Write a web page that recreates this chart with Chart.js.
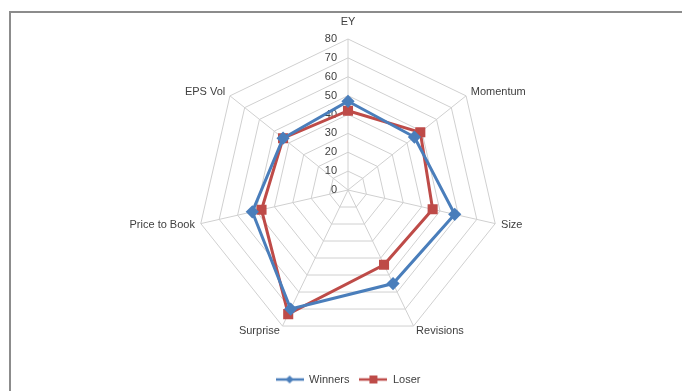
<!DOCTYPE html>
<html>
<head>
<meta charset="utf-8">
<script src="https://cdn.jsdelivr.net/npm/chart.js@4.4.1/dist/chart.umd.min.js"></script>
<style>
  html, body { margin: 0; padding: 0; background: #fff; overflow: hidden; }
  #frame { position: absolute; left: 9px; top: 11px; width: 700px; height: 400px;
           border-left: 2px solid #8c8c8c; border-top: 2px solid #8c8c8c; }
  #wrap { position: absolute; left: 0; top: 0; width: 682px; height: 391px; }
</style>
</head>
<body>
<div id="frame"></div>
<div id="wrap"><canvas id="c"></canvas></div>
<script>
const categories = ["EY", "Momentum", "Size", "Revisions", "Surprise", "Price to Book", "EPS Vol"];
const winners = [47, 45, 58, 55, 70, 52, 44];
const loser = [42, 49, 46, 44, 73, 47, 44];
const tickValues = [0, 10, 20, 30, 40, 50, 60, 70, 80];

const BLUE = "#4a7ebb";
const RED = "#be4b48";
const TEXT = "#404040";
const FONT = "11px 'Liberation Sans', Arial, sans-serif";

function legendIcon(color, shape) {
  const cv = document.createElement("canvas");
  cv.width = 28; cv.height = 12;
  const g = cv.getContext("2d");
  g.strokeStyle = color; g.lineWidth = 2.5;
  g.beginPath(); g.moveTo(0, 6); g.lineTo(28, 6); g.stroke();
  g.fillStyle = color;
  if (shape === "diamond") {
    g.beginPath(); g.moveTo(14, 2); g.lineTo(18, 6); g.lineTo(14, 10); g.lineTo(10, 6); g.closePath(); g.fill();
  } else {
    g.fillRect(10, 2, 8, 8);
  }
  return cv;
}

// Excel-style tick labels (left of the vertical axis) and point labels
const labelPlugin = {
  id: "excelLabels",
  beforeDatasetsDraw(chart) {
    const s = chart.scales.r;
    const ctx = chart.ctx;
    ctx.save();
    ctx.font = FONT;
    ctx.fillStyle = TEXT;
    ctx.textAlign = "right";
    ctx.textBaseline = "middle";
    tickValues.forEach(v => {
      const d = s.getDistanceFromCenterForValue(v);
      ctx.fillText(String(v), s.xCenter - 11, s.yCenter - d);
    });
    const maxD = s.getDistanceFromCenterForValue(s.max);
    categories.forEach((lab, i) => {
      const base = s.getPointPosition(i, maxD);
      const dx = base.x - s.xCenter;
      let p;
      if (Math.abs(dx) < 2) {
        p = s.getPointPosition(i, maxD + 17);
        ctx.textAlign = "center";
      } else {
        p = s.getPointPosition(i, maxD + 6);
        ctx.textAlign = dx > 0 ? "left" : "right";
      }
      ctx.fillText(lab, p.x, p.y);
    });
    ctx.restore();
  }
};

new Chart(document.getElementById("c"), {
  type: "radar",
  data: {
    labels: categories,
    datasets: [
      { label: "Winners", data: winners, borderColor: BLUE, backgroundColor: BLUE,
        borderWidth: 3, pointStyle: "rectRot", pointRadius: 4.5, pointHoverRadius: 4.5,
        pointBackgroundColor: BLUE, pointBorderColor: BLUE, fill: false },
      { label: "Loser", data: loser, borderColor: RED, backgroundColor: RED,
        borderWidth: 3, pointStyle: "rect", pointRadius: 5, pointHoverRadius: 5,
        pointBackgroundColor: RED, pointBorderColor: RED, fill: false }
    ]
  },
  options: {
    responsive: true,
    maintainAspectRatio: false,
    animation: false,
    layout: { padding: { top: 16, bottom: -4, left: 197, right: 183 } },
    scales: {
      r: {
        min: 0, max: 80,
        ticks: { stepSize: 10, display: false },
        grid: { color: "#d0d0d0", lineWidth: 1, circular: false },
        angleLines: { color: "#d0d0d0", lineWidth: 1 },
        pointLabels: { display: false }
      }
    },
    plugins: {
      tooltip: { enabled: false },
      legend: {
        position: "bottom",
        labels: {
          usePointStyle: true,
          pointStyleWidth: 28,
          font: { family: "'Liberation Sans', Arial, sans-serif", size: 11 },
          color: TEXT,
          padding: 10,
          generateLabels(chart) {
            return chart.data.datasets.map((ds, i) => ({
              text: ds.label,
              pointStyle: legendIcon(ds.borderColor, i === 0 ? "diamond" : "square"),
              fillStyle: ds.borderColor, strokeStyle: ds.borderColor,
              lineWidth: 0, hidden: false, datasetIndex: i, fontColor: TEXT
            }));
          }
        }
      }
    }
  },
  plugins: [labelPlugin]
});
</script>
</body>
</html>
